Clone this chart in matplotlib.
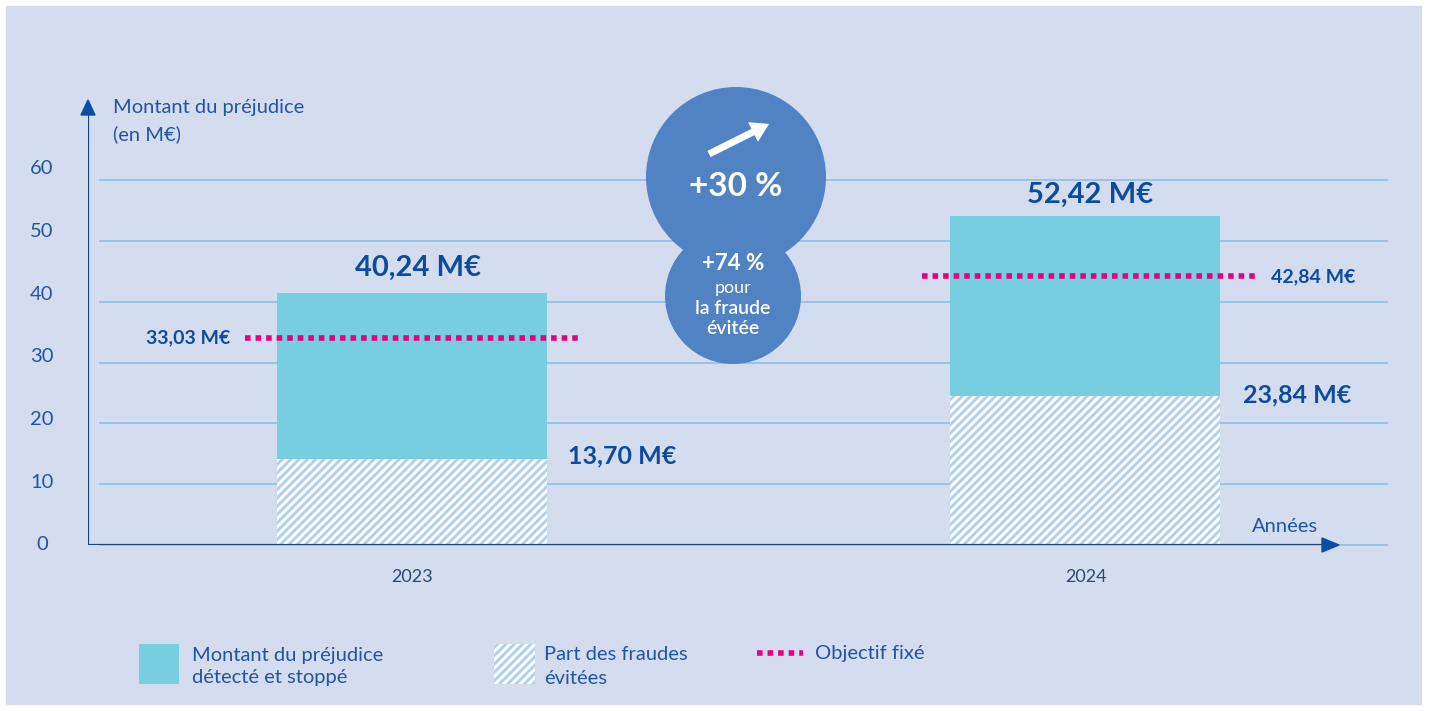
import matplotlib
matplotlib.use("Agg")
import matplotlib.pyplot as plt
from matplotlib.patches import Rectangle, Circle, FancyArrow

plt.rcParams['font.family'] = ['Lato', 'DejaVu Sans']
plt.rcParams['hatch.linewidth'] = 2.0
plt.rcParams['hatch.color'] = '#AFD0EC'

# ---- data ----
years = ['2023', '2024']
total = [40.24, 52.42]          # montant du préjudice détecté et stoppé (total)
avoided = [13.70, 23.84]        # part des fraudes évitées
objective = [33.03, 42.84]      # objectif fixé
total_labels = ['40,24 M€', '52,42 M€']
avoided_labels = ['13,70 M€', '23,84 M€']
objective_labels = ['33,03 M€', '42,84 M€']
yticks = [0, 10, 20, 30, 40, 50, 60]
growth_total = '+30 %'
growth_avoided = '+74 %'

W, H = 1429, 711
fig = plt.figure(figsize=(W / 100, H / 100), dpi=100)
fig.patch.set_facecolor('white')

BG = '#D4DDEF'
TEAL = '#77CEE0'
MAGENTA = '#E6007E'
DARK = '#0E4B9F'
TXT = '#2155A3'
GRID = '#93C2E6'
AXIS = '#1D4572'
CIRCLE = '#5082C4'
HATCH = '#AFD0EC'

# background overlay axes in pixel coordinates
ov = fig.add_axes([0, 0, 1, 1], zorder=0)
ov.set_xlim(0, W)
ov.set_ylim(H, 0)
ov.axis('off')
ov.add_patch(Rectangle((6, 6), 1415, 698, color=BG, zorder=0))
# decorative grid (evenly spaced bands)
for i in range(7):
    ov.plot([100, 1387], [545 - 60.8 * i] * 2, color=GRID, lw=1.3, zorder=1)

# main axes: y=0 at px 545
px_per_unit = 6.27
y0_px = 545
ymax = (545 - 89) / px_per_unit
ax_bottom = (H - y0_px) / H
ax_height = ymax * px_per_unit / H
x_left_px, x_right_px = 88, 1400
c0, c1 = 412, 1085
sep = c1 - c0
xl = (x_left_px - c0) / sep
xr = (x_right_px - c0) / sep
ax = fig.add_axes([x_left_px / W, ax_bottom, (x_right_px - x_left_px) / W, ax_height], zorder=2)
ax.patch.set_alpha(0)
ax.set_xlim(xl, xr)
ax.set_ylim(0, ymax)
for s in ax.spines.values():
    s.set_visible(False)
ax.set_xticks([])
ax.set_yticks([])

def px2x(p):
    return (p - c0) / sep

def px2y(p):
    return (y0_px - p) / px_per_unit

# tick labels
for t in yticks:
    ax.text(px2x(42), t, str(t), ha='center', va='center', fontsize=14.5, color=TXT, zorder=5)

xpos = [0, 1]
bw = 270 / sep
ax.bar(xpos, total, width=bw, color=TEAL, zorder=3, linewidth=0)
ax.bar(xpos, avoided, width=bw, color='white', hatch='////', edgecolor=HATCH, linewidth=0, zorder=4)

# objective lines
obj_ranges = [(245, 578), (922, 1257)]
for (a, b), v in zip(obj_ranges, objective):
    ax.hlines(v, px2x(a), px2x(b), color=MAGENTA, lw=4, linestyles=(0, (1, 0.9)), zorder=6)

# value labels
ax.text(px2x(418), px2y(268), total_labels[0], ha='center', va='center', fontsize=21,
        fontweight='bold', color=DARK, zorder=7)
ax.text(px2x(1090), px2y(195), total_labels[1], ha='center', va='center', fontsize=21,
        fontweight='bold', color=DARK, zorder=7)
ax.text(px2x(568), px2y(456), avoided_labels[0], ha='left', va='center', fontsize=18,
        fontweight='bold', color=DARK, zorder=7)
ax.text(px2x(1243), px2y(395), avoided_labels[1], ha='left', va='center', fontsize=18,
        fontweight='bold', color=DARK, zorder=7)
ax.text(px2x(230), objective[0], objective_labels[0], ha='right', va='center', fontsize=14,
        fontweight='bold', color=DARK, zorder=7)
ax.text(px2x(1271), objective[1], objective_labels[1], ha='left', va='center', fontsize=14,
        fontweight='bold', color=DARK, zorder=7)

# year labels
for x, y in zip([px2x(412), px2x(1086)], years):
    ax.text(x, px2y(577), y, ha='center', va='center', fontsize=13, color='#2B4A78', zorder=7)

# axes lines with arrows
ax.plot([xl, px2x(1325)], [0, 0], color=AXIS, lw=1.6, zorder=8, solid_capstyle='butt')
ax.plot([xl, xl], [0, px2y(112)], color=AXIS, lw=1.6, zorder=8)

# foreground overlay (pixel coords)
fg = fig.add_axes([0, 0, 1, 1], zorder=5)
fg.set_xlim(0, W)
fg.set_ylim(H, 0)
fg.axis('off')
fg.patch.set_alpha(0)
fg.add_patch(plt.Polygon([[1322, 538], [1322, 552], [1339, 545]], color='#0A4DA2', zorder=9))
fg.add_patch(plt.Polygon([[81, 115], [95, 115], [88, 100]], color='#0A4DA2', zorder=9))

# axis titles
fg.text(113, 107, 'Montant du préjudice', ha='left', va='center', fontsize=14.5, color=TXT, zorder=9)
fg.text(113, 134, '(en M€)', ha='left', va='center', fontsize=14.5, color=TXT, zorder=9)
fg.text(1285, 526, 'Années', ha='center', va='center', fontsize=14.5, color=TXT, zorder=9)

# circles
fg.add_patch(Circle((736, 177), 90, color=CIRCLE, zorder=10, lw=0))
fg.add_patch(Circle((733, 296), 68, color=CIRCLE, zorder=10, lw=0))
fg.add_patch(FancyArrow(709, 154, 44, -22, width=7, head_width=22, head_length=18,
                        length_includes_head=False, color='white', zorder=11, lw=0))
fg.text(736, 187, growth_total, ha='center', va='center', fontsize=24, fontweight='bold',
        color='white', zorder=11)
fg.text(733, 264, growth_avoided, ha='center', va='center', fontsize=16, fontweight='bold',
        color='white', zorder=11)
fg.text(733, 288, 'pour', ha='center', va='center', fontsize=13, color='white', zorder=11)
fg.text(733, 308, 'la fraude', ha='center', va='center', fontsize=14, fontweight='semibold',
        color='white', zorder=11)
fg.text(733, 328, 'évitée', ha='center', va='center', fontsize=14, fontweight='semibold',
        color='white', zorder=11)

# legend
fg.add_patch(Rectangle((139, 644), 40, 40, color=TEAL, lw=0, zorder=10))
fg.add_patch(Rectangle((494, 644), 41, 40, facecolor='white', hatch='////', edgecolor=HATCH,
                       lw=0, zorder=10))
fg.text(192, 655, 'Montant du préjudice', ha='left', va='center', fontsize=14.5, color=TXT, zorder=10)
fg.text(192, 678, 'détecté et stoppé', ha='left', va='center', fontsize=14.5, color=TXT, zorder=10)
fg.text(544, 655, 'Part des fraudes', ha='left', va='center', fontsize=14.5, color=TXT, zorder=10)
fg.text(544, 678, 'évitées', ha='left', va='center', fontsize=14.5, color=TXT, zorder=10)
fg.plot([757, 803], [653, 653], color=MAGENTA, lw=4, linestyle=(0, (1, 0.9)), zorder=10)
fg.text(815, 653, 'Objectif fixé', ha='left', va='center', fontsize=14.5, color=TXT, zorder=10)

fig.savefig('out.png', dpi=100, facecolor='white')
